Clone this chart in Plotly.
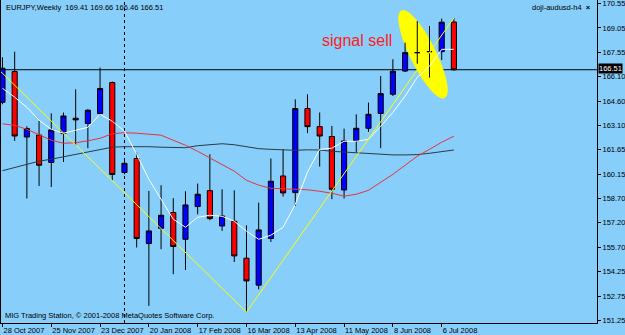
import math
import plotly.graph_objects as go

# ---------------- data ----------------
weeks = ["2007-10-28", "2007-11-04", "2007-11-11", "2007-11-18", "2007-11-25", "2007-12-02",
         "2007-12-09", "2007-12-16", "2007-12-23", "2007-12-30", "2008-01-06", "2008-01-13",
         "2008-01-20", "2008-01-27", "2008-02-03", "2008-02-10", "2008-02-17", "2008-02-24",
         "2008-03-02", "2008-03-09", "2008-03-16", "2008-03-23", "2008-03-30", "2008-04-06",
         "2008-04-13", "2008-04-20", "2008-04-27", "2008-05-04", "2008-05-11", "2008-05-18",
         "2008-05-25", "2008-06-01", "2008-06-08", "2008-06-15", "2008-06-22", "2008-06-29",
         "2008-07-06", "2008-07-13"]

opens = [164.53, 166.40, 162.42, 162.54, 160.87, 162.63, 163.56, 163.24, 163.85, 165.73,
         160.26, 161.11, 155.94, 156.87, 157.83, 156.20, 158.19, 159.16, 157.01, 157.30,
         155.05, 153.41, 156.25, 160.05, 159.04, 164.15, 163.05, 162.45, 159.20, 162.18,
         162.95, 163.85, 165.02, 166.43, 167.55, 167.61, 167.61, 169.41]
highs = [167.27, 167.61, 163.07, 163.40, 163.86, 163.91, 165.32, 164.11, 166.64, 165.79,
         160.95, 161.47, 159.14, 159.49, 158.70, 159.12, 159.59, 161.37, 159.24, 159.18,
         157.05, 158.43, 161.11, 161.67, 164.71, 165.02, 163.91, 163.09, 162.93, 163.80,
         164.51, 166.13, 167.15, 168.16, 169.47, 169.17, 169.62, 169.66]
lows = [164.41, 162.18, 158.68, 159.44, 159.38, 160.90, 161.92, 161.74, 163.74, 159.79,
        160.15, 155.70, 152.15, 155.60, 154.08, 154.34, 157.72, 157.36, 156.71, 154.82,
        151.77, 153.16, 156.04, 158.80, 158.23, 162.65, 160.62, 158.64, 158.68, 161.51,
        162.73, 161.74, 164.91, 166.37, 166.88, 166.03, 167.10, 166.46]
closes = [166.60, 162.48, 162.93, 160.70, 162.85, 163.70, 163.46, 164.05, 165.37, 160.14,
          160.82, 156.25, 156.71, 157.66, 155.76, 158.29, 158.94, 157.46, 157.62, 155.19,
          153.67, 156.77, 159.73, 159.02, 164.15, 163.05, 162.48, 159.24, 162.18, 162.95,
          163.80, 165.06, 166.42, 167.55, 167.55, 167.61, 169.40, 166.51]

ma_fast = [165.38, 164.84, 164.23, 163.44, 162.89, 162.65, 162.83, 163.01, 163.80, 163.38,
           162.77, 161.37, 159.85, 158.64, 157.42, 156.93, 157.54, 157.66, 157.60, 157.30,
           156.69, 156.20, 156.45, 156.93, 158.33, 160.28, 161.67, 161.74, 162.16, 162.16,
           162.28, 163.07, 163.92, 164.90, 166.05, 166.72, 167.75, 167.75]
ma_mid = [163.22, 163.13, 162.89, 162.53, 162.22, 162.04, 162.07, 162.19, 162.34, 162.62,
          162.68, 162.65, 162.59, 162.53, 162.22, 161.92, 161.55, 161.13, 160.76, 160.34,
          159.79, 159.49, 159.30, 159.27, 159.24, 159.21, 159.12, 159.00, 158.82, 158.94,
          159.18, 159.67, 160.15, 160.70, 161.25, 161.67, 162.10, 162.47]
ma_slow = [160.37, 160.55, 160.76, 160.95, 161.07, 161.22, 161.34, 161.49, 161.67, 161.80,
           161.83, 161.84, 161.83, 161.80, 161.77, 161.77, 161.89, 161.96, 162.01, 161.95,
           161.83, 161.71, 161.67, 161.64, 161.61, 161.64, 161.63, 161.55, 161.50, 161.44,
           161.40, 161.35, 161.33, 161.33, 161.35, 161.43, 161.52, 161.63]

zigzag_idx = [-1, 20, 37]
zigzag_val = [167.02, 151.77, 169.66]

tick_idx = [0, 4, 8, 12, 16, 20, 24, 28, 32, 36]
tick_labels = ["28 Oct 2007", "25 Nov 2007", "23 Dec 2007", "20 Jan 2008", "17 Feb 2008",
               "16 Mar 2008", "13 Apr 2008", "11 May 2008", "8 Jun 2008", "6 Jul 2008"]
price_ticks = [170.55, 169.05, 167.55, 166.10, 164.60, 163.10, 161.65, 160.15,
               158.70, 157.20, 155.70, 154.25, 152.75, 151.25]

separator_idx = 10          # 6 Jan 2008 (year separator)
last_price = 166.51
title_text = "EURJPY,Weekly  169.41 169.66 166.46 166.51"

# signal ellipse (centre in data units, axes in screen pixels)
ell_cx, ell_cy = 34.47, 167.45
ell_a, ell_b, ell_tilt = 48.5, 12.5, 26.3

# ---------------- layout constants ----------------
W, H = 625, 335
ML, MR, MT, MB = 1, 28, 0, 12
x_range = [-0.12, 48.73]
y_range = [151.11, 170.75]
BG = "#87CEFA"
FONT = "Liberation Sans"

x = list(range(len(weeks)))
reg = [i for i in x if opens[i] != closes[i]]
doj = [i for i in x if opens[i] == closes[i]]

fig = go.Figure()

fig.add_trace(go.Candlestick(
    x=[x[i] for i in reg], open=[opens[i] for i in reg], high=[highs[i] for i in reg],
    low=[lows[i] for i in reg], close=[closes[i] for i in reg],
    increasing=dict(fillcolor="#0000FF", line=dict(color="#000000", width=1)),
    decreasing=dict(fillcolor="#FF0000", line=dict(color="#000000", width=1)),
    whiskerwidth=0, showlegend=False, hoverinfo="skip"))
fig.add_trace(go.Candlestick(
    x=[x[i] for i in doj], open=[opens[i] for i in doj], high=[highs[i] for i in doj],
    low=[lows[i] for i in doj], close=[closes[i] for i in doj],
    increasing=dict(fillcolor="#000000", line=dict(color="#000000", width=1)),
    decreasing=dict(fillcolor="#000000", line=dict(color="#000000", width=1)),
    whiskerwidth=0, showlegend=False, hoverinfo="skip"))

fig.add_trace(go.Scatter(x=x, y=ma_slow, mode="lines", line=dict(color="#2A3A44", width=1),
                         showlegend=False, hoverinfo="skip"))
fig.add_trace(go.Scatter(x=x, y=ma_mid, mode="lines", line=dict(color="#E8323C", width=1),
                         showlegend=False, hoverinfo="skip"))
fig.add_trace(go.Scatter(x=x, y=ma_fast, mode="lines", line=dict(color="#FFFFFF", width=1),
                         showlegend=False, hoverinfo="skip"))
fig.add_trace(go.Scatter(x=zigzag_idx, y=zigzag_val, mode="lines",
                         line=dict(color="#FFFF00", width=1), showlegend=False, hoverinfo="skip"))

# ellipse path built from its parameters, converted with the axis scales
pw, ph = W - ML - MR, H - MT - MB
sx = pw / (x_range[1] - x_range[0])
sy = ph / (y_range[1] - y_range[0])
th = math.radians(ell_tilt)
ux, uy = math.sin(th), math.cos(th)      # major axis (screen, y down)
vx, vy = math.cos(th), -math.sin(th)     # minor axis
pts = []
for k in range(73):
    t = 2 * math.pi * k / 72
    dx = ell_a * math.cos(t) * ux + ell_b * math.sin(t) * vx
    dy = ell_a * math.cos(t) * uy + ell_b * math.sin(t) * vy
    pts.append((ell_cx + dx / sx, ell_cy - dy / sy))
path = "M " + " L ".join(f"{px:.4f},{py:.4f}" for px, py in pts) + " Z"

fig.add_shape(type="path", path=path, xref="x", yref="y", fillcolor="#FFFF00",
              line=dict(color="#FFFF00", width=1), layer="below")
fig.add_shape(type="line", xref="x", yref="paper", x0=separator_idx, x1=separator_idx,
              y0=0, y1=1, line=dict(color="#000000", width=1, dash="3px,3px"), layer="below")
fig.add_shape(type="line", xref="paper", yref="y", x0=0, x1=1, y0=last_price, y1=last_price,
              line=dict(color="#000000", width=1), layer="below")

small = dict(family=FONT, size=7.5, color="#000000")
fig.add_annotation(text=title_text, xref="paper", yref="paper", x=0, y=1, xanchor="left",
                   yanchor="top", xshift=3, yshift=-1, showarrow=False, font=small)
fig.add_annotation(text="doji-audusd-h4  <b>×</b>", xref="paper", yref="paper", x=1, y=1,
                   xanchor="right", yanchor="top", xshift=-4, yshift=-1, showarrow=False,
                   font=small)
fig.add_annotation(text="MIG Trading Station, © 2001-2008 MetaQuotes Software Corp.",
                   xref="paper", yref="paper", x=0, y=0, xanchor="left", yanchor="bottom",
                   xshift=2, yshift=1, showarrow=False, font=small)
fig.add_annotation(text="signal sell", xref="x", yref="y", x=29.06, y=168.30,
                   showarrow=False, font=dict(family=FONT, size=16, color="#FF2020"))
fig.add_annotation(text=f"{last_price:.2f}", xref="paper", yref="y", x=1, y=last_price,
                   xanchor="left", xshift=1, yshift=1, showarrow=False, bgcolor="#000000",
                   font=dict(family=FONT, size=7.5, color="#FFFFFF"), borderpad=0)

fig.update_layout(
    width=W, height=H, margin=dict(l=ML, r=MR, t=MT, b=MB),
    paper_bgcolor=BG, plot_bgcolor=BG, boxgap=0.4, showlegend=False,
    xaxis=dict(range=x_range, showgrid=False, zeroline=False, showline=True, mirror=True,
               linecolor="#000000", linewidth=1, ticks="outside", ticklen=3,
               tickcolor="#000000", tickvals=tick_idx, ticktext=tick_labels, tickangle=0,
               ticklabelposition="outside right", ticklabeloverflow="allow", tickfont=small,
               rangeslider=dict(visible=False), fixedrange=True),
    yaxis=dict(range=y_range, side="right", showgrid=False, zeroline=False, showline=True,
               mirror=True, linecolor="#000000", linewidth=1, ticks="outside", ticklen=3,
               tickcolor="#000000", tickvals=price_ticks, ticklabeloverflow="allow",
               ticktext=[f"{v:.2f}" for v in price_ticks], tickfont=small, fixedrange=True),
)

fig.write_html("out.html")
